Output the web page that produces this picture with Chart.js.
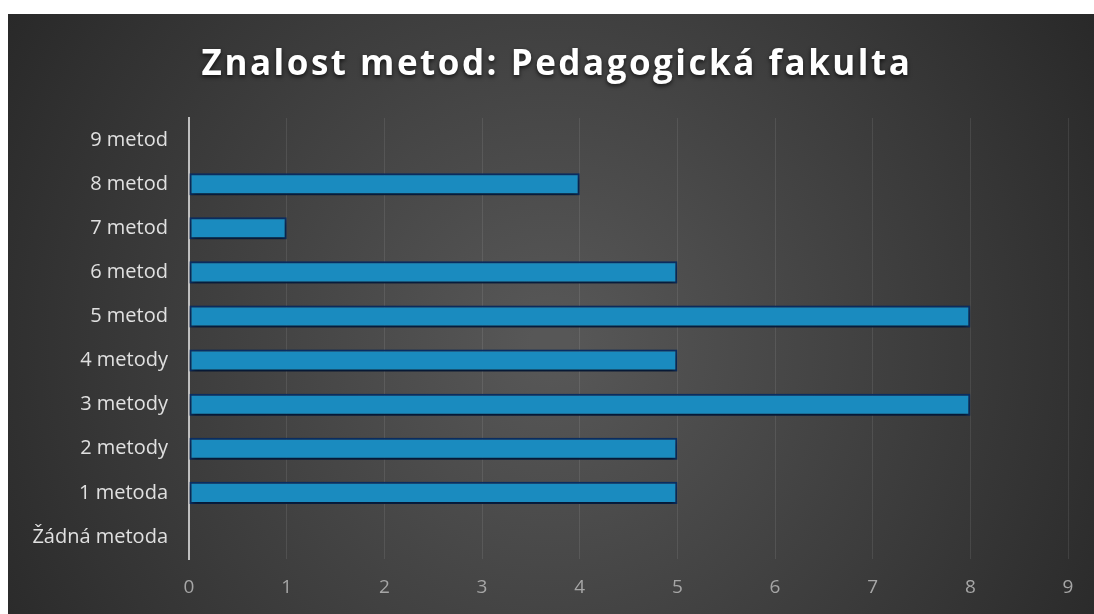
<!DOCTYPE html>
<html>
<head>
<meta charset="utf-8">
<script src="https://cdn.jsdelivr.net/npm/chart.js@4"></script>
<style>
  html, body { margin: 0; padding: 0; background: #fff; }
  #wrap { position: absolute; left: 8px; top: 14px; width: 1086px; height: 600px; }
</style>
</head>
<body>
<div id="wrap"><canvas id="chart"></canvas></div>
<script>
// data, top to bottom as drawn
const categories = ['9 metod', '8 metod', '7 metod', '6 metod', '5 metod', '4 metody', '3 metody', '2 metody', '1 metoda', 'Žádná metoda'];
const counts     = [0, 4, 1, 5, 8, 5, 8, 5, 5, 0];
const xTicks     = [0, 1, 2, 3, 4, 5, 6, 7, 8, 9];

const FONT = 'Open Sans';

// dark radial background like the office theme
const bgPlugin = {
  id: 'bg',
  beforeDraw(chart) {
    const { ctx, width, height } = chart;
    const g = ctx.createRadialGradient(width * 0.5, height * 0.55, 20, width * 0.5, height * 0.55, width * 0.62);
    g.addColorStop(0, '#575757');
    g.addColorStop(1, '#262626');
    ctx.save();
    ctx.fillStyle = g;
    ctx.fillRect(0, 0, width, height);
    ctx.restore();
  }
};

// letter spacing + shadow on the title only
const titleStyle = {
  id: 'titleStyle',
  afterLayout(chart) {
    const tb = chart.titleBlock;
    if (!tb || tb._styled) return;
    const orig = tb.draw.bind(tb);
    tb.draw = function () {
      const c = this.ctx;
      c.save();
      c.translate(6, 0);
      c.letterSpacing = '2.5px';
      c.shadowColor = 'rgba(0,0,0,0.7)';
      c.shadowBlur = 4;
      c.shadowOffsetY = 2;
      orig();
      c.restore();
    };
    tb._styled = true;
  }
};

// soft shadow under the bars
const shadowPlugin = {
  id: 'barShadow',
  beforeDatasetsDraw(chart) {
    const ctx = chart.ctx;
    ctx.save();
    ctx.shadowColor = 'rgba(0,0,0,0.6)';
    ctx.shadowBlur = 5;
    ctx.shadowOffsetY = 3;
  },
  afterDatasetsDraw(chart) { chart.ctx.restore(); }
};

new Chart(document.getElementById('chart'), {
  type: 'bar',
  data: {
    labels: categories,
    datasets: [{
      data: counts,
      backgroundColor: '#1a8bbf',
      borderColor: '#0b2e63',
      borderWidth: 2,
      borderSkipped: false,
      categoryPercentage: 1,
      barPercentage: 0.5,
    }]
  },
  options: {
    indexAxis: 'y',
    responsive: true,
    maintainAspectRatio: false,
    animation: false,
    layout: { padding: 0 },
    plugins: {
      legend: { display: false },
      tooltip: { enabled: false },
      title: {
        display: true,
        text: 'Znalost metod: Pedagogická fakulta',
        color: '#ffffff',
        font: { family: FONT, size: 35, weight: 'bold', lineHeight: 1.2 },
        padding: { top: 30, bottom: 32 },
      },
    },
    scales: {
      x: {
        min: 0, max: 9,
        afterBuildTicks: s => { s.ticks = xTicks.map(v => ({ value: v })); },
        afterFit: s => { s.height = 55; s.paddingRight = 26; },
        grid: { color: 'rgba(255,255,255,0.09)', lineWidth: 1, drawTicks: false },
        border: { display: false },
        ticks: { color: '#a6a6a6', padding: 17, font: { family: FONT, size: 19 } },
      },
      y: {
        afterFit: s => { s.width = 181; },
        grid: { display: false, drawTicks: false },
        border: { display: true, color: '#bfbfbf', width: 2 },
        ticks: { color: '#e0e0e0', padding: 21, font: { family: FONT, size: 20 } },
      }
    }
  },
  plugins: [bgPlugin, titleStyle, shadowPlugin]
});
</script>
</body>
</html>
